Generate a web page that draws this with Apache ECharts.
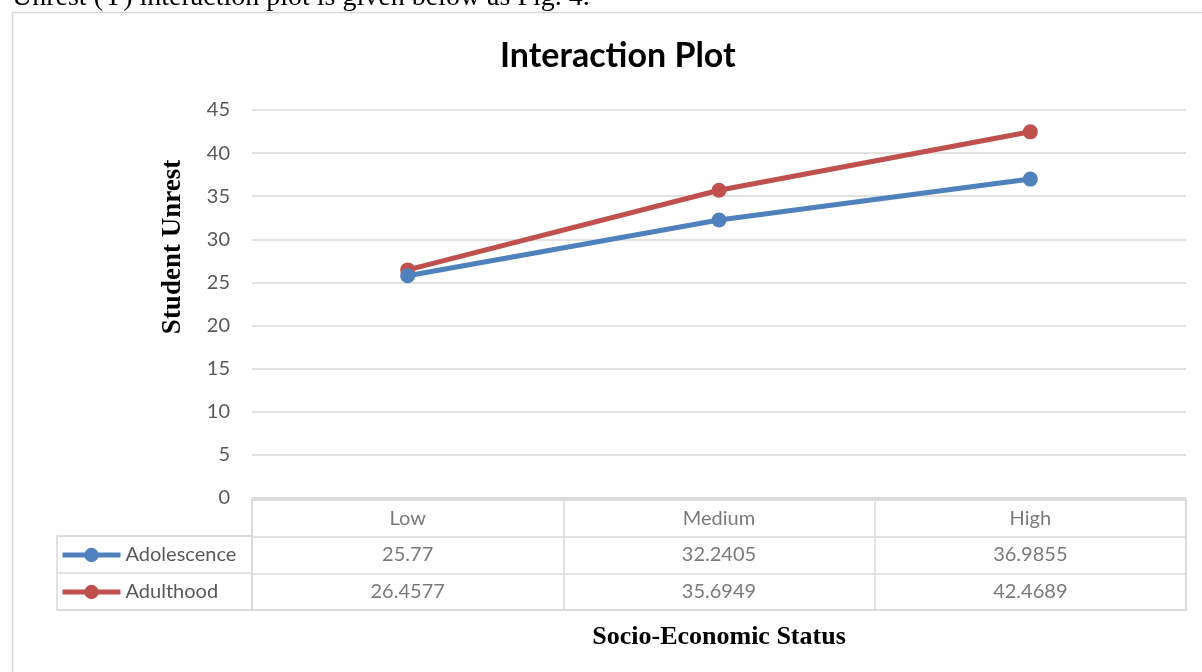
<!DOCTYPE html>
<html>
<head>
<meta charset="utf-8">
<script src="https://cdn.jsdelivr.net/npm/echarts@6/dist/echarts.min.js"></script>
<style>
  html, body { margin: 0; padding: 0; background: #fff; }
  #chart { width: 1202px; height: 672px; }
</style>
</head>
<body>
<div id="chart"></div>
<script>
const categories = ['Low', 'Medium', 'High']
const adolescence = [25.77, 32.2405, 36.9855]
const adulthood = [26.4577, 35.6949, 42.4689]
const yTicks = { min: 0, max: 45, interval: 5 }

const gridColor = '#d9d9d9'
const textColor = '#595959'
const sans = 'Lato, "Noto Sans", sans-serif'
const serif = '"Liberation Serif", "Times New Roman", serif'

// cells of the data table under the plot
const tableCells = []
categories.forEach((c, i) => {
  tableCells.push([i, 0, c])
  tableCells.push([i, 1, adolescence[i]])
  tableCells.push([i, 2, adulthood[i]])
})

const option = {
  animation: false,
  title: {
    text: 'Interaction Plot',
    left: 495,
    top: 34,
    textStyle: { fontFamily: sans, fontSize: 34, fontWeight: 'bold', color: '#000' },
  },
  legend: {
    data: ['Adolescence', 'Adulthood'],
    orient: 'vertical',
    left: 55,
    top: 540,
    itemWidth: 58,
    itemHeight: 18,
    itemGap: 17,
    lineStyle: { width: 5 },
    textStyle: { fontFamily: sans, fontSize: 20, color: textColor },
  },
  grid: [
    { left: 252, right: 16, top: 110, bottom: 174 },
    { left: 252, right: 16, top: 500, height: 110, show: true, borderColor: gridColor, borderWidth: 1.5 },
    { left: 57, width: 195, top: 536, height: 74, show: true, borderColor: gridColor, borderWidth: 1.5 },
  ],
  xAxis: [
    {
      type: 'category',
      data: categories,
      gridIndex: 0,
      axisLine: { lineStyle: { color: gridColor, width: 1.5 } },
      axisTick: { show: false },
      axisLabel: { show: false },
    },
    {
      type: 'category',
      data: categories,
      gridIndex: 1,
      axisLine: { show: false },
      axisTick: { show: false },
      axisLabel: { show: false },
      splitLine: { show: true, lineStyle: { color: gridColor, width: 1.5 } },
      name: 'Socio-Economic Status',
      nameLocation: 'middle',
      nameGap: 14,
      nameTextStyle: { fontFamily: serif, fontSize: 26, fontWeight: 'bold', color: '#000' },
    },
    {
      type: 'category',
      data: [''],
      gridIndex: 2,
      show: false,
    },
  ],
  yAxis: [
    {
      type: 'value',
      gridIndex: 0,
      min: yTicks.min,
      max: yTicks.max,
      interval: yTicks.interval,
      axisLine: { show: false },
      axisTick: { show: false },
      axisLabel: { fontFamily: sans, fontSize: 20, color: textColor, margin: 22 },
      splitLine: { lineStyle: { color: gridColor, width: 1.5 } },
    },
    {
      type: 'category',
      data: ['', 'Adolescence', 'Adulthood'],
      inverse: true,
      gridIndex: 1,
      axisLine: { show: false },
      axisTick: { show: false },
      axisLabel: { show: false },
      splitLine: { show: true, lineStyle: { color: gridColor, width: 1.5 } },
    },
    {
      type: 'category',
      data: ['Adolescence', 'Adulthood'],
      inverse: true,
      gridIndex: 2,
      axisLine: { show: false },
      axisTick: { show: false },
      axisLabel: { show: false },
      splitLine: { show: true, lineStyle: { color: gridColor, width: 1.5 } },
    },
  ],
  graphic: [
    {
      type: 'rect',
      shape: { x: 12.5, y: 12.5, width: 1210, height: 720 },
      style: { fill: 'none', stroke: gridColor, lineWidth: 1.5 },
      silent: true,
      z: -10,
    },
    {
      type: 'text',
      x: 12,
      y: -16,
      style: { text: 'Unrest (Y) interaction plot is given below as Fig. 4.', font: '28px ' + serif, fill: '#000' },
    },
    {
      type: 'text',
      x: 173,
      y: 247,
      rotation: Math.PI / 2,
      style: {
        text: 'Student Unrest',
        font: 'bold 27px ' + serif,
        fill: '#000',
        align: 'center',
        verticalAlign: 'middle',
      },
    },
  ],
  series: [
    {
      name: 'Adolescence',
      type: 'line',
      data: adolescence,
      symbol: 'circle',
      symbolSize: 15,
      lineStyle: { width: 5, color: '#4F81BD' },
      itemStyle: { color: '#4F81BD' },
      z: 3,
    },
    {
      name: 'Adulthood',
      type: 'line',
      data: adulthood,
      symbol: 'circle',
      symbolSize: 15,
      lineStyle: { width: 5, color: '#C0504D' },
      itemStyle: { color: '#C0504D' },
      z: 2,
    },
    {
      name: 'table',
      type: 'scatter',
      xAxisIndex: 1,
      yAxisIndex: 1,
      data: tableCells,
      symbolSize: 0,
      silent: true,
      label: {
        show: true,
        position: 'inside',
        formatter: (p) => String(p.value[2]),
        fontFamily: sans,
        fontSize: 20,
        color: textColor,
      },
    },
  ],
}

const chart = echarts.init(document.getElementById('chart'))
chart.setOption(option)
</script>
</body>
</html>
